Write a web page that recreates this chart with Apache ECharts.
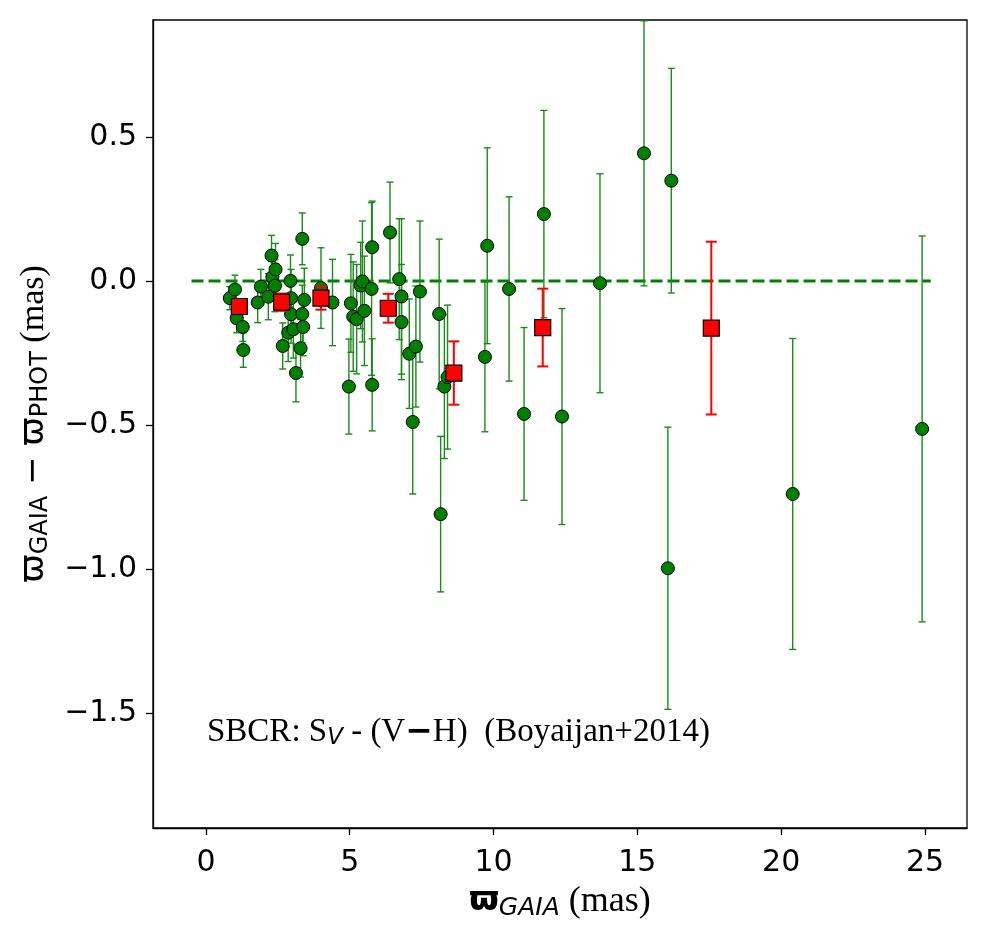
<!DOCTYPE html>
<html>
<head>
<meta charset="utf-8">
<script src="https://cdn.jsdelivr.net/npm/echarts@6/dist/echarts.min.js"></script>
<style>html,body{margin:0;padding:0;background:#fff}#c{width:990px;height:936px}</style>
</head>
<body>
<div id="c"></div>
<script>
// ---- data ----
const greenX = [0.83,1.01,1.07,1.28,1.30,1.80,1.91,2.17,2.28,2.31,2.40,2.42,2.67,2.86,2.94,2.96,2.96,3.04,3.13,3.29,3.35,3.35,3.38,3.42,4.00,4.40,4.97,5.04,5.12,5.24,5.38,5.44,5.51,5.76,5.78,5.78,6.40,6.72,6.80,6.80,7.07,7.19,7.30,7.44,8.11,8.16,8.29,8.40,9.70,9.78,10.54,11.06,11.75,12.38,13.70,15.23,16.06,16.18,20.40,24.90];
const greenY = [-0.06,-0.03,-0.13,-0.16,-0.24,-0.075,-0.02,-0.055,0.088,0.013,-0.017,0.04,-0.226,-0.18,0.0,-0.06,-0.116,-0.168,-0.32,-0.234,0.146,-0.115,-0.16,-0.066,-0.025,-0.075,-0.367,-0.078,-0.124,-0.133,-0.016,-0.002,-0.104,-0.028,0.117,-0.361,0.168,0.006,-0.054,-0.143,-0.253,-0.49,-0.228,-0.037,-0.115,-0.81,-0.367,-0.334,-0.264,0.122,-0.028,-0.462,0.232,-0.471,-0.008,0.443,-0.998,0.348,-0.74,-0.514];
const greenErr = [0.04,0.05,0.05,0.05,0.06,0.07,0.06,0.08,0.07,0.08,0.09,0.09,0.08,0.10,0.09,0.10,0.10,0.10,0.10,0.10,0.09,0.10,0.10,0.11,0.14,0.15,0.165,0.17,0.19,0.19,0.15,0.21,0.19,0.30,0.16,0.16,0.175,0.21,0.27,0.20,0.19,0.25,0.21,0.245,0.26,0.27,0.25,0.25,0.26,0.34,0.32,0.30,0.36,0.375,0.38,0.46,0.49,0.39,0.54,0.67];
const redX = [1.16,2.63,4.00,6.34,8.62,11.71,17.57];
const redY = [-0.089,-0.074,-0.06,-0.095,-0.32,-0.162,-0.164];
const redErr = [0.02,0.03,0.04,0.05,0.11,0.135,0.30];
const zeroLineX = [-0.5,25.2];
const xTicks = [0,5,10,15,20,25];
const yTicks = [-1.5,-1.0,-0.5,0.0,0.5];

const chart = echarts.init(document.getElementById('c'), null, {renderer:'canvas'});

function errData(xs, ys, es){ return xs.map((x,i)=>[x, ys[i]-es[i], ys[i]+es[i]]); }
function ptData(xs, ys){ return xs.map((x,i)=>[x, ys[i]]); }
function errRender(color, cap, lw){
  return function(params, api){
    const x = api.value(0), lo = api.value(1), hi = api.value(2);
    const a = api.coord([x, hi]), b = api.coord([x, lo]);
    const st = {stroke: color, lineWidth: lw};
    return {type:'group', children:[
      {type:'line', shape:{x1:a[0],y1:a[1],x2:b[0],y2:b[1]}, style:st},
      {type:'line', shape:{x1:a[0]-cap,y1:a[1],x2:a[0]+cap,y2:a[1]}, style:st},
      {type:'line', shape:{x1:b[0]-cap,y1:b[1],x2:b[0]+cap,y2:b[1]}, style:st}
    ]};
  };
}
const minus = s => s.replace('-', '\u2212');

const option = {
  animation: false,
  backgroundColor: '#fff',
  grid: {left:153, right:23, top:20, bottom:108, show:true, borderColor:'#000', borderWidth:1.3, backgroundColor:'transparent'},
  xAxis: {
    type:'value', min:-1.84, max:26.46,
    axisLine:{show:true, onZero:false, lineStyle:{color:'#000', width:1.3}},
    axisTick:{show:true, length:7, lineStyle:{color:'#000', width:1.3}, customValues:xTicks},
    axisLabel:{color:'#000', fontSize:30, fontFamily:'DejaVu Sans', margin:20, customValues:xTicks, formatter:v=>minus(String(v))},
    splitLine:{show:false},
    name:'{w|ϖ}{sub|GAIA}{s| (mas)}', nameLocation:'middle', nameGap:54,
    nameTextStyle:{color:'#000', rich:{
      w:{fontFamily:'DejaVu Sans', fontSize:34, fontWeight:'bold', color:'#000'},
      sub:{fontFamily:'DejaVu Sans', fontStyle:'italic', fontSize:25, color:'#000', padding:[14,0,0,0]},
      s:{fontFamily:'Liberation Serif', fontSize:36, color:'#000'}
    }}
  },
  yAxis: {
    type:'value', min:-1.9, max:0.906,
    axisLine:{show:true, onZero:false, lineStyle:{color:'#000', width:1.3}},
    axisTick:{show:true, length:7, lineStyle:{color:'#000', width:1.3}, customValues:yTicks},
    axisLabel:{color:'#000', fontSize:30, fontFamily:'DejaVu Sans', margin:16, customValues:yTicks, formatter:v=>minus(v.toFixed(1))},
    splitLine:{show:false},
    name:'{w|ϖ}{sub|GAIA}{m| − }{w|ϖ}{sub|PHOT}{s| (mas)}', nameLocation:'middle', nameGap:100, nameRotate:90,
    nameTextStyle:{color:'#000', rich:{
      w:{fontFamily:'DejaVu Sans', fontSize:34, color:'#000'},
      sub:{fontFamily:'DejaVu Sans', fontSize:24, color:'#000', padding:[13,0,0,0]},
      m:{fontFamily:'DejaVu Sans', fontSize:34, color:'#000'},
      s:{fontFamily:'Liberation Serif', fontSize:34, color:'#000'}
    }}
  },
  graphic: [{
    type:'text', left:207, top:716, z:100,
    style:{
      text:'{t|SBCR: S}{v|V}{t| - (V}{m|−}{t|H)  (Boyaijan+2014)}',
      rich:{
        t:{fontFamily:'Liberation Serif', fontSize:33, fill:'#000'},
        v:{fontFamily:'DejaVu Sans', fontStyle:'italic', fontSize:23, fill:'#000', padding:[12,0,0,0]},
        m:{fontFamily:'DejaVu Sans', fontSize:33, fontWeight:'bold', fill:'#000'}
      }
    }
  }],
  series: [
    {type:'line', data:zeroLineX.map(x=>[x,0]), symbol:'none', z:1,
     lineStyle:{color:'#008000', width:3, type:[12,5]}},
    {type:'custom', data:errData(greenX, greenY, greenErr), renderItem:errRender('#1a8a1a',3.5,1.4), clip:true, z:2,
     encode:{x:0, y:[1,2]}},
    {type:'scatter', data:ptData(greenX, greenY), symbol:'circle', symbolSize:13, z:3,
     itemStyle:{color:'#008000', borderColor:'#000', borderWidth:1, opacity:1}},
    {type:'custom', data:errData(redX, redY, redErr), renderItem:errRender('#ff0000',5.5,2), clip:true, z:4,
     encode:{x:0, y:[1,2]}},
    {type:'scatter', data:ptData(redX, redY), symbol:'rect', symbolSize:16, z:5,
     itemStyle:{color:'#ff0000', borderColor:'#000', borderWidth:1.2, opacity:1}}
  ]
};
chart.setOption(option);
</script>
</body>
</html>
